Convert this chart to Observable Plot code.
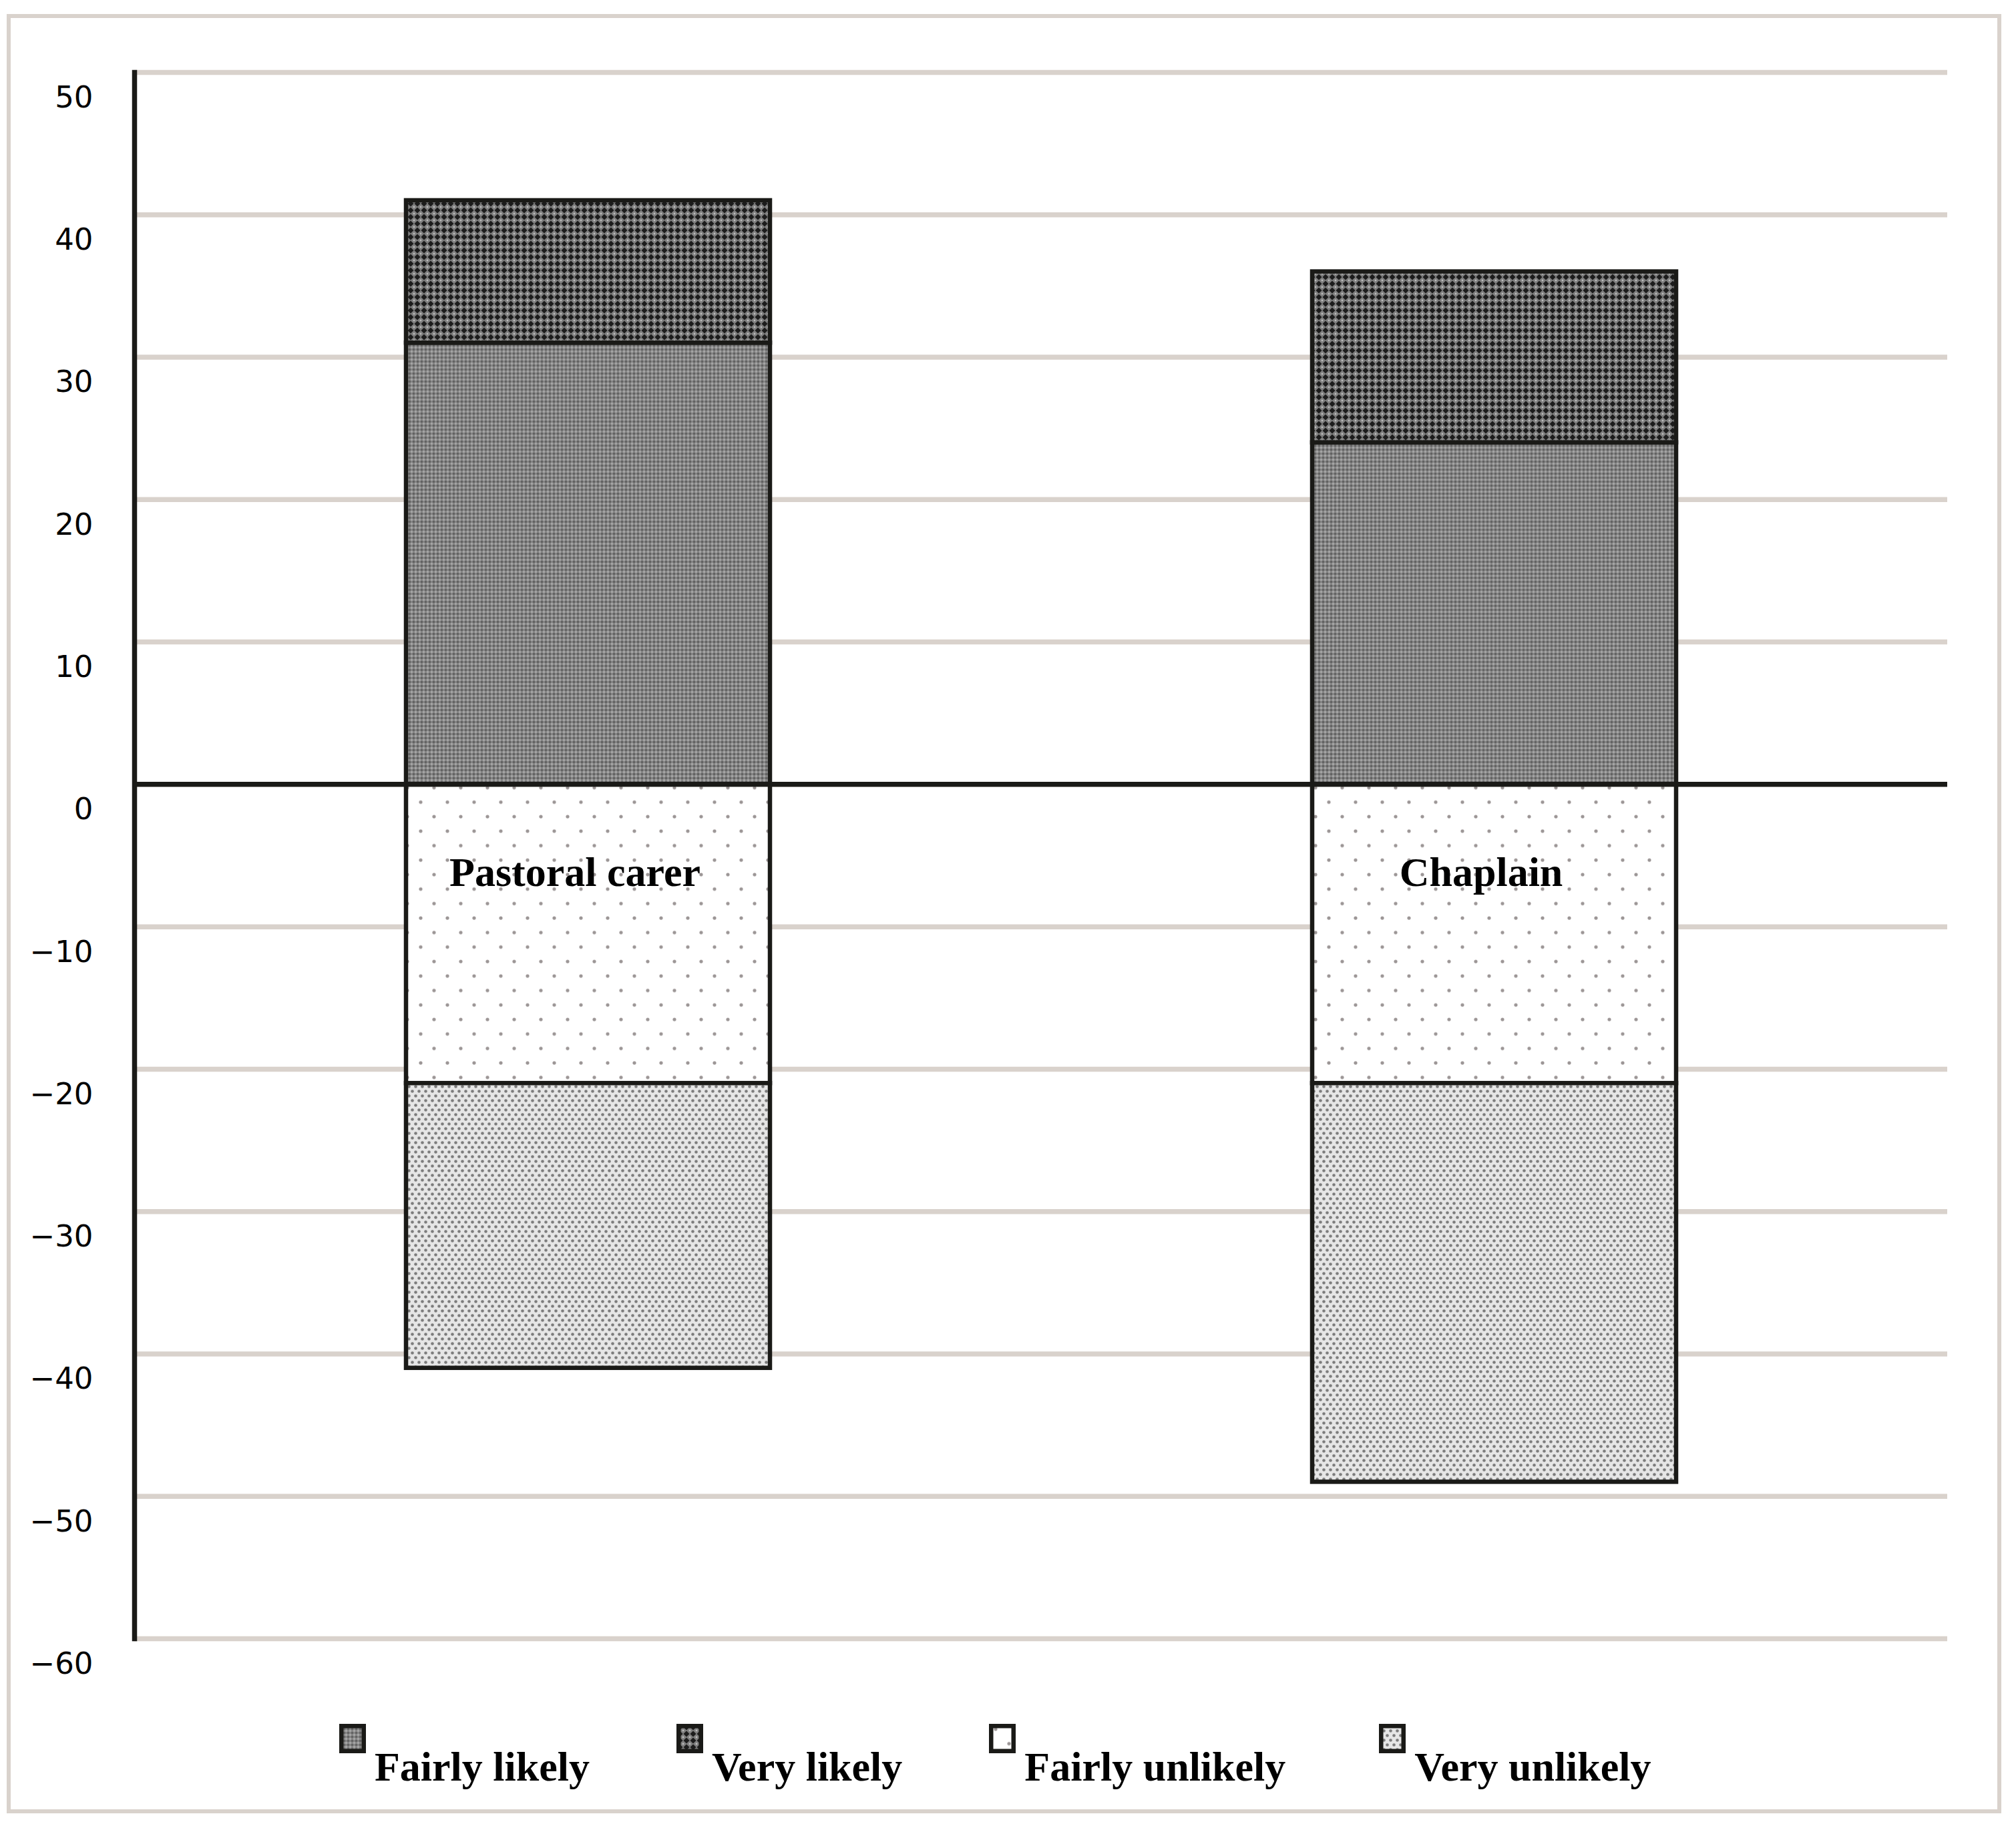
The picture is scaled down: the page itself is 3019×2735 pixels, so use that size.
<!DOCTYPE html>
<html>
<head>
<meta charset="utf-8">
<script src="https://cdn.jsdelivr.net/npm/d3@7"></script>
<script src="https://cdn.jsdelivr.net/npm/@observablehq/plot@0.6"></script>
<style>
  html, body { margin: 0; padding: 0; background: #fff; overflow: hidden; }
  #root { position: relative; width: 3019px; height: 2735px; background: #fff; }
  #border { position: absolute; left: 10px; top: 21px; width: 2987px; height: 2695px; box-sizing: border-box; border: 6px solid #d9d2cc; }
  #chart { position: absolute; left: 0; top: 0; }
  #legend { position: absolute; left: 508px; top: 2582px; display: flex; gap: 130px; }
  .item { display: flex; align-items: flex-start; }
  .item:last-child { margin-left: 10px; }
  .item span { margin-left: 13px; margin-top: 33px; font-family: "Liberation Serif", "Times New Roman", serif; font-weight: bold; font-size: 62px; line-height: 62px; color: #000; white-space: nowrap; }
</style>
</head>
<body>
<svg width="0" height="0" style="position:absolute">
  <defs>
    <pattern id="pFL" patternUnits="userSpaceOnUse" width="6" height="6">
      <rect width="6" height="6" fill="#848484"/>
      <rect x="0" y="0" width="3" height="3" fill="#626262"/>
      <rect x="3" y="3" width="3" height="3" fill="#a4a4a4"/>
    </pattern>
    <pattern id="pVL" patternUnits="userSpaceOnUse" width="10" height="10">
      <rect width="10" height="10" fill="#7e7e7e"/>
      <polygon points="5,0.5 9.5,5 5,9.5 0.5,5" fill="#1c1c1c"/>
      <circle cx="0" cy="0" r="1.4" fill="#bcbcbc"/>
      <circle cx="10" cy="0" r="1.4" fill="#bcbcbc"/>
      <circle cx="0" cy="10" r="1.4" fill="#bcbcbc"/>
      <circle cx="10" cy="10" r="1.4" fill="#bcbcbc"/>
    </pattern>
    <pattern id="pFU" patternUnits="userSpaceOnUse" width="40" height="43.4">
      <rect width="40" height="43.4" fill="#ffffff"/>
      <circle cx="10" cy="8" r="2.6" fill="#9c9696"/>
      <circle cx="30" cy="29.7" r="2.6" fill="#9c9696"/>
    </pattern>
    <pattern id="pVU" patternUnits="userSpaceOnUse" width="10" height="14">
      <rect width="10" height="14" fill="#e6e6e6"/>
      <circle cx="2.5" cy="3.5" r="2.3" fill="#7c7c7c"/>
      <circle cx="7.5" cy="10.5" r="2.3" fill="#7c7c7c"/>
    </pattern>
  </defs>
</svg>
<div id="root">
  <div id="border"></div>
  <div id="chart"></div>
  <div id="legend"></div>
</div>
<script>
// ---- data ----
const roles = ["Pastoral carer", "Chaplain"];
const series = ["Fairly likely", "Very likely", "Fairly unlikely", "Very unlikely"];
const fairlyLikely = [31, 24];
const veryLikely = [10, 12];
const fairlyUnlikely = [-21, -21];
const veryUnlikely = [-20, -28];
const yTicks = [-60, -50, -40, -30, -20, -10, 0, 10, 20, 30, 40, 50];
const labelY = [-6.2, -6.2];
const patterns = ["url(#pFL)", "url(#pVL)", "url(#pFU)", "url(#pVU)"];

const seriesValues = [fairlyLikely, veryLikely, fairlyUnlikely, veryUnlikely];
const data = [];
series.forEach((s, si) => {
  roles.forEach((r, ri) => data.push({ role: r, series: s, value: seriesValues[si][ri] }));
});
const labels = roles.map((r, i) => ({ role: r, y: labelY[i] }));

const ink = "#1a1a17";
const grid = "#d9d2cc";

const chart = Plot.plot({
  width: 3019,
  height: 2540,
  marginLeft: 201,
  marginRight: 103,
  marginTop: 108,
  marginBottom: 86,
  style: { background: "transparent", overflow: "visible" },
  x: { type: "band", domain: roles, paddingInner: 0.5985, paddingOuter: 0.2993, axis: null },
  y: { domain: [-60, 50], axis: null },
  color: { type: "ordinal", domain: series, range: patterns },
  marks: [
    Plot.ruleY(yTicks, { stroke: grid, strokeWidth: 7.5 }),
    Plot.barY(data, { x: "role", y: "value", fill: "series", stroke: ink, strokeWidth: 6.5 }),
    Plot.ruleY([0], { stroke: ink, strokeWidth: 7.5 }),
    Plot.frame({ anchor: "left", stroke: ink, strokeWidth: 7.5 }),
    Plot.axisY({
      ticks: yTicks,
      tickSize: 0,
      tickPadding: 62,
      textAnchor: "end",
      dy: 38,
      fontSize: 45,
      fontFamily: "DejaVu Sans",
      fill: "#000",
      label: null
    }),
    Plot.text(labels, {
      x: "role",
      y: "y",
      text: "role",
      dx: -20,
      fontSize: 62,
      fontWeight: "bold",
      fontFamily: "Liberation Serif",
      fill: "#000"
    })
  ]
});
document.getElementById("chart").appendChild(chart);

// ---- legend ----
const legend = document.getElementById("legend");
series.forEach((s, i) => {
  const item = document.createElement("div");
  item.className = "item";
  item.innerHTML =
    `<svg width="40" height="44"><rect x="3.25" y="3.25" width="33.5" height="37.5" fill="${patterns[i]}" stroke="${ink}" stroke-width="6.5"/></svg>` +
    `<span>${s}</span>`;
  legend.appendChild(item);
});
</script>
</body>
</html>
